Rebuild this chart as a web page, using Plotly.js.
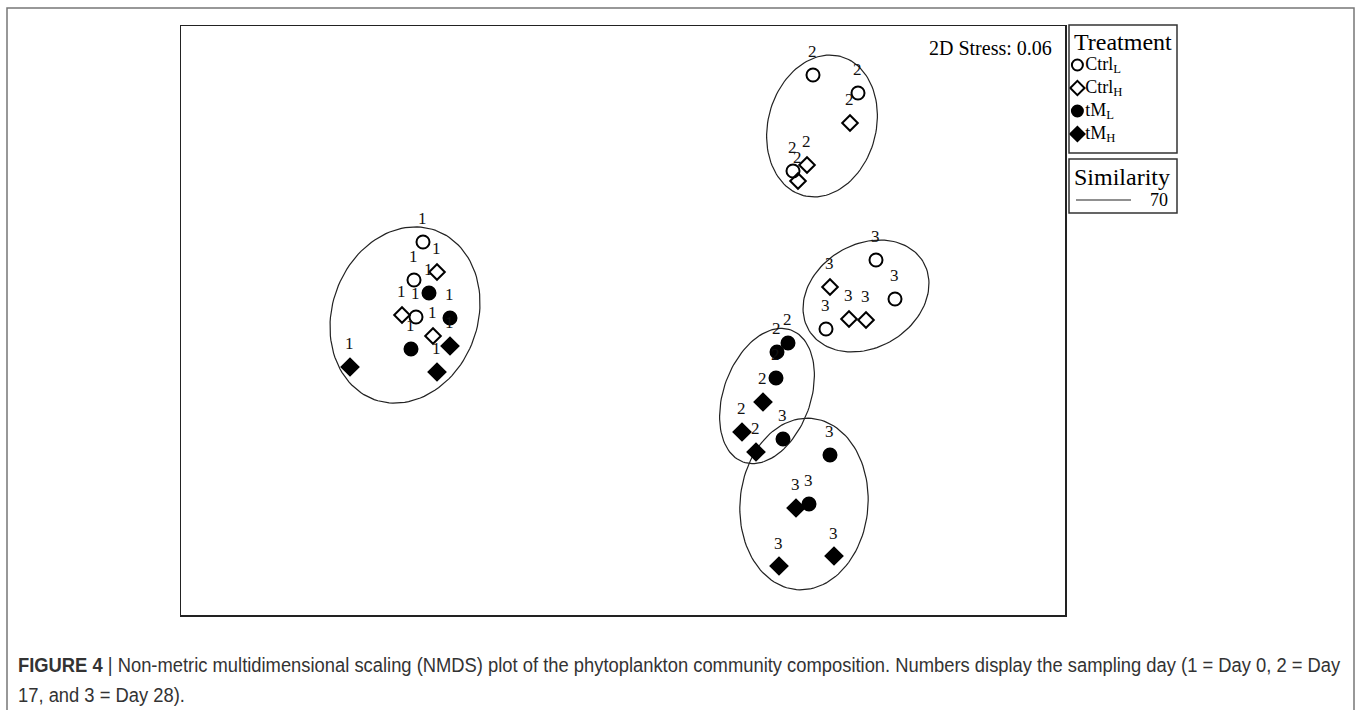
<!DOCTYPE html>
<html><head><meta charset="utf-8">
<script src="https://cdn.plot.ly/plotly-3.0.1.min.js"></script>
<style>
html,body{margin:0;padding:0;background:#fff;}
#wrap{position:relative;width:1358px;height:710px;overflow:hidden;}
#chart{position:absolute;left:0;top:0;width:1358px;height:710px;}
.cap{position:absolute;left:18px;white-space:nowrap;font-family:'Liberation Sans',Arial,sans-serif;font-size:20px;line-height:24px;color:#333;transform-origin:0 50%;}
</style>
</head><body><div id="wrap"><div id="chart"></div>
<div class="cap" id="cap1" style="top:653px;"><b>FIGURE 4</b> | Non-metric multidimensional scaling (NMDS) plot of the phytoplankton community composition. Numbers display the sampling day (1 = Day 0, 2 = Day</div>
<div class="cap" id="cap2" style="top:683px;">17, and 3 = Day 28).</div>
</div>
<script>
// ---- data (NMDS coordinates) ----
const treatmentNames = ['Ctrl<sub>L</sub>', 'Ctrl<sub>H</sub>', 'tM<sub>L</sub>', 'tM<sub>H</sub>'];
const ctrlL_x = [-1.00, -1.045, -1.035, 0.95, 1.175, 0.85, 1.265, 1.36, 1.015];
const ctrlL_y = [0.39, 0.20, 0.015, 1.225, 1.135, 0.745, 0.30, 0.105, -0.045];
const ctrlL_day = [1, 1, 1, 2, 2, 2, 3, 3, 3];
const ctrlH_x = [-0.93, -1.105, -0.95, 1.135, 0.92, 0.875, 1.035, 1.13, 1.215];
const ctrlH_y = [0.24, 0.025, -0.08, 0.985, 0.775, 0.695, 0.165, 0.005, 0.0];
const ctrlH_day = [1, 1, 1, 2, 2, 2, 3, 3, 3];
const tmL_x = [-0.97, -0.865, -1.06, 0.825, 0.77, 0.765, 0.80, 1.035, 0.93];
const tmL_y = [0.135, 0.01, -0.145, -0.115, -0.16, -0.29, -0.595, -0.675, -0.92];
const tmL_day = [1, 1, 1, 2, 2, 2, 3, 3, 3];
const tmH_x = [-0.865, -1.365, -0.93, 0.70, 0.595, 0.665, 0.865, 0.78, 1.055];
const tmH_y = [-0.13, -0.235, -0.26, -0.41, -0.56, -0.66, -0.94, -1.23, -1.18];
const tmH_day = [1, 1, 1, 2, 2, 2, 3, 3, 3];

// similarity (70%) contours: centre, semi-axes, tilt (deg, clockwise from vertical)
const contourCx = [-1.09, 0.995, 1.215, 0.72, 0.905];
const contourCy = [0.025, 0.97, 0.12, -0.38, -0.92];
const contourA = [0.45, 0.36, 0.333, 0.351, 0.43];
const contourB = [0.364, 0.27, 0.258, 0.2175, 0.32];
const contourTilt = [20, 15, 59, 20, 5];
const similarityLevel = 70;
const stressValue = 0.06;

// ---- build ----
const serif = 'Liberation Serif, Times New Roman, serif';
const symbols = ['circle-open', 'diamond-open', 'circle', 'diamond'];
const sizes = [13, 12, 13, 13];
const groups = [
  {x: ctrlL_x, y: ctrlL_y, d: ctrlL_day},
  {x: ctrlH_x, y: ctrlH_y, d: ctrlH_day},
  {x: tmL_x, y: tmL_y, d: tmL_day},
  {x: tmH_x, y: tmH_y, d: tmH_day}
];

const traces = [];
contourCx.forEach((cx, k) => {
  const th = contourTilt[k] * Math.PI / 180;
  const ux = Math.sin(th), uy = Math.cos(th);
  const vx = Math.cos(th), vy = -Math.sin(th);
  const xs = [], ys = [];
  for (let i = 0; i <= 120; i++) {
    const t = 2 * Math.PI * i / 120;
    xs.push(cx + contourA[k] * Math.cos(t) * ux + contourB[k] * Math.sin(t) * vx);
    ys.push(contourCy[k] + contourA[k] * Math.cos(t) * uy + contourB[k] * Math.sin(t) * vy);
  }
  traces.push({x: xs, y: ys, type: 'scatter', mode: 'lines',
    line: {color: '#222', width: 1.2}, hoverinfo: 'skip'});
});

const annotations = [];
groups.forEach((g, i) => {
  traces.push({
    x: g.x, y: g.y, type: 'scatter', mode: 'markers', name: treatmentNames[i],
    marker: {symbol: symbols[i], size: sizes[i], color: '#000', line: {color: '#000', width: 2}}
  });
  g.x.forEach((xv, j) => {
    annotations.push({
      x: xv, y: g.y[j], xref: 'x', yref: 'y', text: String(g.d[j]),
      showarrow: false, yshift: 23, xshift: -1,
      font: {family: serif, size: 17, color: '#111'}
    });
  });
});

// treatment key (drawn on its own small axis pair)
traces.push({
  x: treatmentNames.map(() => 0), y: treatmentNames, xaxis: 'x2', yaxis: 'y2',
  type: 'scatter', mode: 'markers+text', text: treatmentNames, textposition: 'middle right',
  textfont: {family: serif, size: 18, color: '#000'},
  marker: {symbol: symbols, size: 11, color: '#000', line: {color: '#000', width: 2}},
  cliponaxis: false, hoverinfo: 'skip'
});

const W = 1358, H = 710;
const px = v => v / W, py = v => 1 - v / H;

annotations.push({xref: 'paper', yref: 'paper', x: px(1054), y: py(48), xanchor: 'right', yanchor: 'middle',
  text: '2D Stress: ' + stressValue.toFixed(2), showarrow: false, font: {family: serif, size: 20, color: '#000'}});
annotations.push({xref: 'paper', yref: 'paper', x: px(1072), y: py(42), xanchor: 'left', yanchor: 'middle',
  text: 'Treatment', showarrow: false, font: {family: serif, size: 24, color: '#000'}});
annotations.push({xref: 'paper', yref: 'paper', x: px(1072), y: py(177), xanchor: 'left', yanchor: 'middle',
  text: 'Similarity', showarrow: false, font: {family: serif, size: 24, color: '#000'}});
annotations.push({xref: 'paper', yref: 'paper', x: px(1170), y: py(200), xanchor: 'right', yanchor: 'middle',
  text: String(similarityLevel), showarrow: false, font: {family: serif, size: 18, color: '#000'}});

const noAxis = {showgrid: false, zeroline: false, showticklabels: false, ticks: '', fixedrange: true};
const layout = {
  width: W, height: H,
  margin: {l: 0, r: 0, t: 0, b: 0},
  paper_bgcolor: 'rgba(0,0,0,0)', plot_bgcolor: 'rgba(0,0,0,0)',
  showlegend: false,
  xaxis: Object.assign({domain: [px(181), px(1065)], range: [-2.21, 2.21], showline: true, mirror: true, linecolor: '#222', linewidth: 1.5}, noAxis),
  yaxis: Object.assign({domain: [py(615), py(26)], range: [-1.475, 1.47], showline: true, mirror: true, linecolor: '#222', linewidth: 1.5}, noAxis),
  xaxis2: Object.assign({domain: [px(1069), px(1177)], range: [-1.4, 16.6], showline: false}, noAxis),
  yaxis2: Object.assign({domain: [py(145.5), py(53.5)], type: 'category', categoryorder: 'array', categoryarray: treatmentNames,
          range: [3.5, -0.5], showline: false}, noAxis),
  annotations: annotations,
  shapes: [
    {type: 'rect', xref: 'paper', yref: 'paper', x0: px(7), x1: px(1354), y0: py(715), y1: py(8), line: {color: '#777', width: 1.5}},
    {type: 'rect', xref: 'paper', yref: 'paper', x0: px(1069), x1: px(1177), y0: py(153), y1: py(25), line: {color: '#333', width: 1.5}},
    {type: 'rect', xref: 'paper', yref: 'paper', x0: px(1069), x1: px(1177), y0: py(213), y1: py(159), line: {color: '#333', width: 1.5}},
    {type: 'line', xref: 'paper', yref: 'paper', x0: px(1076), x1: px(1131), y0: py(200), y1: py(200), line: {color: '#222', width: 1.2}}
  ]
};

Plotly.newPlot('chart', traces, layout, {displayModeBar: false, staticPlot: true}).then(() => {
  const c1 = document.getElementById('cap1'), c2 = document.getElementById('cap2');
  const s = 1322 / c1.scrollWidth;
  c1.style.transform = 'scaleX(' + s + ')';
  c2.style.transform = 'scaleX(' + s + ')';
});
</script></body></html>
